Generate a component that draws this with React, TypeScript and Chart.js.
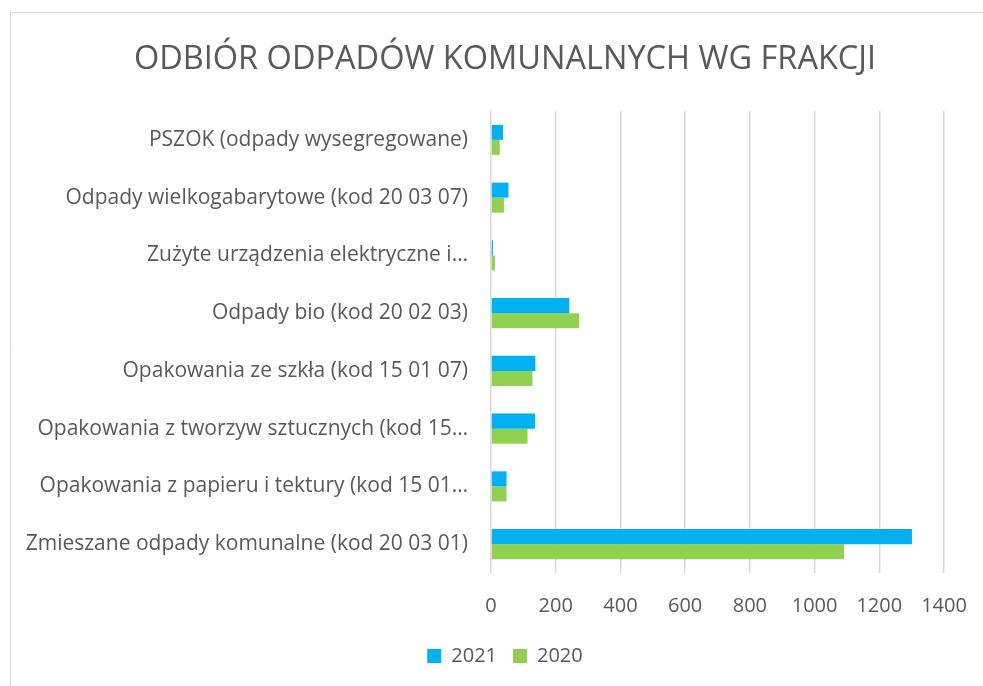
import React, { useEffect, useRef } from "react";
import { Chart, registerables } from "chart.js";

Chart.register(...registerables);

const categories = [
  "PSZOK (odpady wysegregowane)",
  "Odpady wielkogabarytowe (kod 20 03 07)",
  "Zużyte urządzenia elektryczne i…",
  "Odpady bio (kod 20 02 03)",
  "Opakowania ze szkła (kod 15 01 07)",
  "Opakowania z tworzyw sztucznych (kod 15…",
  "Opakowania z papieru i tektury (kod 15 01…",
  "Zmieszane odpady komunalne (kod 20 03 01)",
];
const values2021 = [37, 54, 6, 242, 137, 136, 48, 1301];
const values2020 = [27, 40, 12, 272, 128, 113, 48, 1091];
const seriesLabels = ["2021", "2020"];
const xMin = 0;
const xMax = 1400;
const xStep = 200;
const titleText = "ODBIÓR ODPADÓW KOMUNALNYCH WG FRAKCJI";

const FONT = "'Open Sans', sans-serif";
const TEXT = "#595959";

const framePlugin = {
  id: "frame",
  beforeDraw(chart: any) {
    const ctx = chart.ctx;
    ctx.save();
    ctx.fillStyle = "#ffffff";
    ctx.fillRect(0, 0, chart.width, chart.height);
    ctx.strokeStyle = "#d9d9d9";
    ctx.lineWidth = 1;
    ctx.beginPath();
    ctx.moveTo(0.5, chart.height);
    ctx.lineTo(0.5, 0.5);
    ctx.lineTo(chart.width, 0.5);
    ctx.stroke();
    ctx.restore();
  },
};

export default function App() {
  const ref = useRef<HTMLCanvasElement | null>(null);
  useEffect(() => {
    if (!ref.current) return;
    const chart = new Chart(ref.current, {
      type: "bar",
      data: {
        labels: categories,
        datasets: [
          { label: seriesLabels[0], data: values2021, backgroundColor: "#00B0F0", categoryPercentage: 0.52, barPercentage: 1 },
          { label: seriesLabels[1], data: values2020, backgroundColor: "#92D050", categoryPercentage: 0.52, barPercentage: 1 },
        ],
      },
      options: {
        indexAxis: "y",
        responsive: false,
        animation: false,
        layout: { padding: { left: 0, right: 0, top: 0, bottom: 10 } },
        plugins: {
          title: {
            display: true,
            text: titleText,
            color: TEXT,
            font: { family: FONT, size: 32.5, weight: "normal" },
            padding: { top: 28, bottom: 32 },
          },
          legend: {
            position: "bottom",
            labels: {
              color: TEXT,
              font: { family: FONT, size: 20 },
              boxWidth: 14,
              boxHeight: 14,
              padding: 16,
            },
          },
          tooltip: { enabled: false },
        },
        scales: {
          y: {
            grid: { display: false },
            border: { display: false },
            ticks: { color: TEXT, font: { family: FONT, size: 21 }, padding: 15 },
            afterFit: (s: any) => { s.width = 481; },
          },
          yRight: {
            type: "linear",
            axis: "y",
            position: "right",
            display: true,
            grid: { display: false },
            border: { display: false },
            ticks: { display: false },
            afterFit: (s: any) => { s.width = 56; },
          },
          x: {
            min: xMin,
            max: xMax,
            grid: { color: "#d9d9d9", lineWidth: 1.5, drawTicks: false },
            border: { display: false },
            ticks: {
              stepSize: xStep,
              color: TEXT,
              font: { family: FONT, size: 20 },
              padding: 21,
              callback: (v: any) => String(v),
            },
            afterFit: (s: any) => { s.height = 57; },
          },
        },
      } as any,
      plugins: [framePlugin],
    });
    return () => chart.destroy();
  }, []);

  return (
    <div style={{ position: "fixed", left: 0, top: 0, width: "100vw", height: "100vh", overflow: "hidden", background: "#fff" }}>
      <canvas ref={ref} width={990} height={674} style={{ position: "absolute", left: 10, top: 12, width: 990, height: 674 }} />
    </div>
  );
}
